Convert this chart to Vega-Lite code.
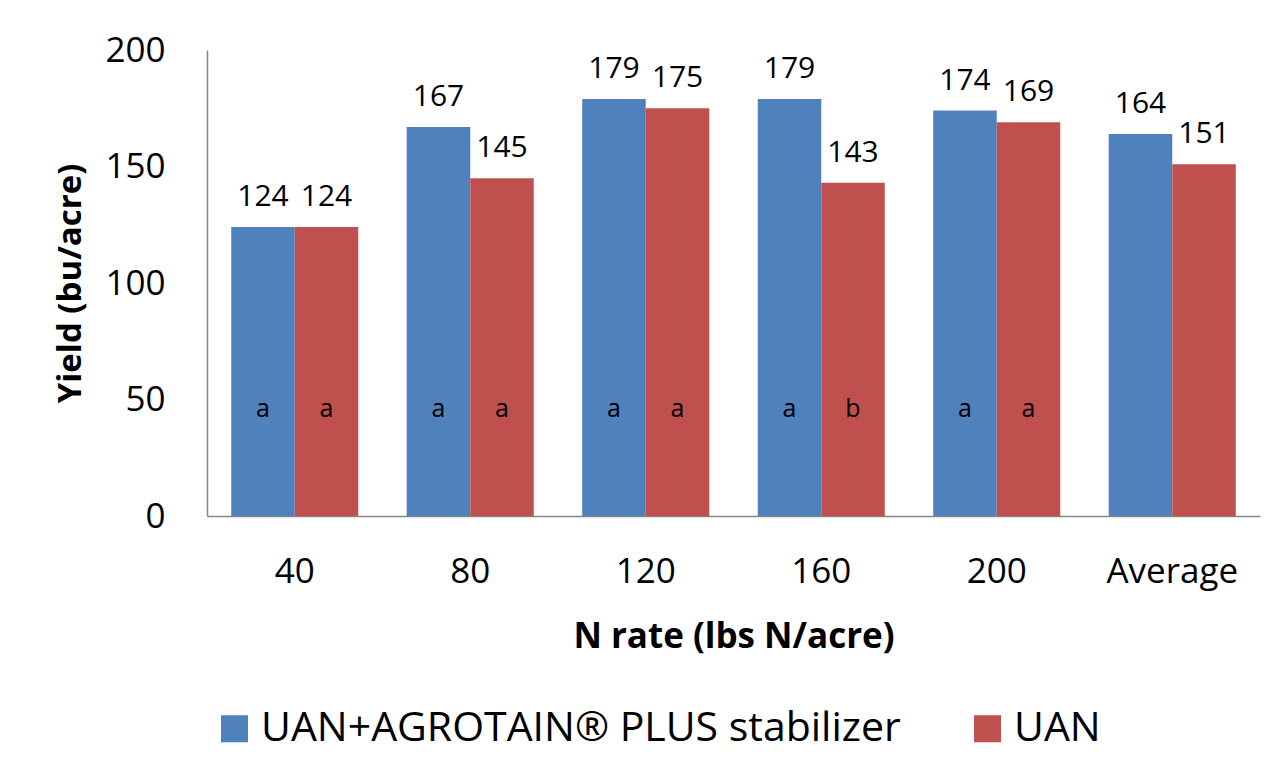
{
  "$schema": "https://vega.github.io/schema/vega-lite/v6.json",
  "width": 1053,
  "height": 466,
  "autosize": {"type": "none"},
  "padding": {"left": 207, "top": 50, "right": 14, "bottom": 259},
  "background": "white",
  "config": {"font": "Open Sans", "view": {"stroke": null}},
  "data": {
    "values": [
      {"rate": "40", "treatment": "UAN+AGROTAIN® PLUS stabilizer", "yield": 124, "letter": "a"},
      {"rate": "40", "treatment": "UAN", "yield": 124, "letter": "a"},
      {"rate": "80", "treatment": "UAN+AGROTAIN® PLUS stabilizer", "yield": 167, "letter": "a"},
      {"rate": "80", "treatment": "UAN", "yield": 145, "letter": "a"},
      {"rate": "120", "treatment": "UAN+AGROTAIN® PLUS stabilizer", "yield": 179, "letter": "a"},
      {"rate": "120", "treatment": "UAN", "yield": 175, "letter": "a"},
      {"rate": "160", "treatment": "UAN+AGROTAIN® PLUS stabilizer", "yield": 179, "letter": "a"},
      {"rate": "160", "treatment": "UAN", "yield": 143, "letter": "b"},
      {"rate": "200", "treatment": "UAN+AGROTAIN® PLUS stabilizer", "yield": 174, "letter": "a"},
      {"rate": "200", "treatment": "UAN", "yield": 169, "letter": "a"},
      {"rate": "Average", "treatment": "UAN+AGROTAIN® PLUS stabilizer", "yield": 164, "letter": ""},
      {"rate": "Average", "treatment": "UAN", "yield": 151, "letter": ""}
    ]
  },
  "encoding": {
    "x": {
      "field": "rate",
      "type": "nominal",
      "sort": ["40", "80", "120", "160", "200", "Average"],
      "scale": {"paddingInner": 0.276, "paddingOuter": 0.138},
      "axis": {
        "title": "N rate (lbs N/acre)",
        "titleFontSize": 35,
        "titleFontWeight": "bold",
        "titleColor": "black",
        "titlePadding": 30,
        "labelFontSize": 35,
        "labelColor": "black",
        "labelAngle": 0,
        "labelPadding": 38,
        "ticks": false,
        "domainColor": "#868686",
        "domainWidth": 1.5
      }
    },
    "xOffset": {
      "field": "treatment",
      "type": "nominal",
      "sort": ["UAN+AGROTAIN® PLUS stabilizer", "UAN"],
      "scale": {"paddingInner": 0, "paddingOuter": 0}
    }
  },
  "layer": [
    {
      "mark": {"type": "bar"},
      "encoding": {
        "y": {
          "field": "yield",
          "type": "quantitative",
          "scale": {"domain": [0, 200]},
          "axis": {
            "values": [0, 50, 100, 150, 200],
            "title": "Yield (bu/acre)",
            "titleFontSize": 33,
            "titleFontWeight": "bold",
            "titleColor": "black",
            "titlePadding": 17,
            "labelFontSize": 35,
            "labelColor": "black",
            "labelPadding": 42,
            "ticks": false,
            "grid": false,
            "domainColor": "#868686",
            "domainWidth": 1.5
          }
        },
        "color": {
          "field": "treatment",
          "type": "nominal",
          "sort": ["UAN+AGROTAIN® PLUS stabilizer", "UAN"],
          "scale": {"domain": ["UAN+AGROTAIN® PLUS stabilizer", "UAN"], "range": ["#4F81BD", "#C0504D"]},
          "legend": {
            "title": null,
            "orient": "none",
            "direction": "horizontal",
            "legendX": 7,
            "legendY": 658,
            "symbolType": "square",
            "symbolSize": 729,
            "symbolStrokeWidth": 0,
            "symbolOpacity": 1,
            "labelFontSize": 41,
            "labelColor": "black",
            "labelOffset": 6,
            "columnPadding": 66,
            "labelLimit": 1000
          }
        }
      }
    },
    {
      "mark": {"type": "text", "fontSize": 30, "baseline": "alphabetic", "dy": -21, "color": "black"},
      "encoding": {
        "y": {"field": "yield", "type": "quantitative"},
        "text": {"field": "yield", "type": "quantitative"}
      }
    },
    {
      "mark": {"type": "text", "fontSize": 25, "baseline": "middle", "color": "black"},
      "encoding": {
        "y": {"datum": 46},
        "text": {"field": "letter", "type": "nominal"}
      }
    }
  ]
}
